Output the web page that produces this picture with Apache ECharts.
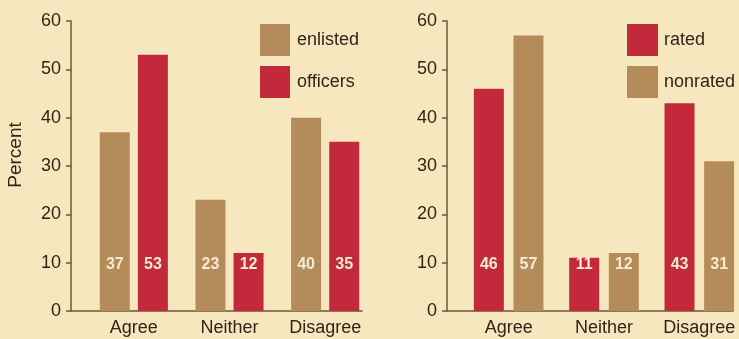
<!DOCTYPE html>
<html>
<head>
<meta charset="utf-8">
<script src="https://cdn.jsdelivr.net/npm/echarts@6/dist/echarts.min.js"></script>
<style>
  html, body { margin: 0; padding: 0; background: #f7e7bf; }
  #chart { width: 739px; height: 339px; }
</style>
</head>
<body>
<div id="chart"></div>
<script>
// survey answers, percent
const categories = ["Agree", "Neither", "Disagree"];
const enlisted = [37, 23, 40];
const officers = [53, 12, 35];
const rated = [46, 11, 43];
const nonrated = [57, 12, 31];
const yMin = 0, yMax = 60, yStep = 10;

const tan = "#b38c5a";
const red = "#c22a3b";
const axisColor = "#6b5836";
const textColor = "#2e2616";
const font = "Liberation Sans, Arial, sans-serif";

function axisBox(gridIndex, withName) {
  return {
    gridIndex: gridIndex,
    type: "value",
    min: yMin,
    max: yMax,
    interval: yStep,
    name: withName ? "Percent" : "",
    nameLocation: "middle",
    nameGap: 46,
    nameTextStyle: { color: textColor, fontSize: 19, fontFamily: font, padding: [0, 0, 0, 22] },
    axisLine: { show: true, lineStyle: { color: axisColor, width: 1.5 } },
    axisTick: { show: true, length: 5, lineStyle: { color: axisColor, width: 1.5 } },
    axisLabel: { color: textColor, fontSize: 18, fontFamily: font, margin: 10 },
    splitLine: { show: false },
  };
}

function barLabel() {
  return {
    show: true,
    position: "insideBottom",
    distance: 38,
    color: "#f6ead2",
    fontSize: 16,
    fontWeight: "bold",
    fontFamily: font,
  };
}

function catAxis(gridIndex) {
  return {
    gridIndex: gridIndex, type: "category", data: categories,
    axisLine: { show: false }, axisTick: { show: false },
    axisLabel: { color: textColor, fontSize: 18, fontFamily: font, margin: 8, interval: 0 },
  };
}

function frameAxis(gridIndex) {
  return {
    gridIndex: gridIndex, type: "value", min: 0, max: 1,
    axisLine: { show: true, onZero: false, lineStyle: { color: axisColor, width: 1.5 } },
    axisTick: { show: false }, axisLabel: { show: false }, splitLine: { show: false },
  };
}

const chart = echarts.init(document.getElementById("chart"));

const option = {
  backgroundColor: "#f7e7bf",
  animation: false,
  grid: [
    // axes frames
    { left: 71, width: 291, top: 21, height: 290, outerBoundsMode: "none" },
    { left: 447, width: 286, top: 21, height: 290, outerBoundsMode: "none" },
    // bar areas
    { left: 86, width: 287, top: 21, height: 290, outerBoundsMode: "none" },
    { left: 461, width: 286, top: 21, height: 290, outerBoundsMode: "none" },
  ],
  legend: [
    {
      data: ["enlisted", "officers"],
      orient: "vertical",
      left: 255,
      top: 19,
      itemWidth: 30,
      itemHeight: 32,
      itemGap: 10,
      icon: "rect",
      textStyle: { color: textColor, fontSize: 18, fontFamily: font, padding: [0, 0, 0, 2] },
    },
    {
      data: ["rated", "nonrated"],
      orient: "vertical",
      left: 622,
      top: 19,
      itemWidth: 31,
      itemHeight: 32,
      itemGap: 10,
      icon: "rect",
      textStyle: { color: textColor, fontSize: 18, fontFamily: font, padding: [0, 0, 0, 1] },
    },
  ],
  xAxis: [frameAxis(0), frameAxis(1), catAxis(2), catAxis(3)],
  yAxis: [
    axisBox(0, true),
    axisBox(1, false),
    { gridIndex: 2, type: "value", min: yMin, max: yMax, show: false },
    { gridIndex: 3, type: "value", min: yMin, max: yMax, show: false },
  ],
  series: [
    {
      name: "enlisted", type: "bar", xAxisIndex: 2, yAxisIndex: 2,
      data: enlisted, barWidth: 30, barGap: "27%",
      itemStyle: { color: tan }, label: barLabel(),
    },
    {
      name: "officers", type: "bar", xAxisIndex: 2, yAxisIndex: 2,
      data: officers, barWidth: 30, barGap: "27%",
      itemStyle: { color: red }, label: barLabel(),
    },
    {
      name: "rated", type: "bar", xAxisIndex: 3, yAxisIndex: 3,
      data: rated, barWidth: 30, barGap: "32%",
      itemStyle: { color: red }, label: barLabel(),
    },
    {
      name: "nonrated", type: "bar", xAxisIndex: 3, yAxisIndex: 3,
      data: nonrated, barWidth: 30, barGap: "32%",
      itemStyle: { color: tan }, label: barLabel(),
    },
  ],
};

chart.setOption(option);
</script>
</body>
</html>
